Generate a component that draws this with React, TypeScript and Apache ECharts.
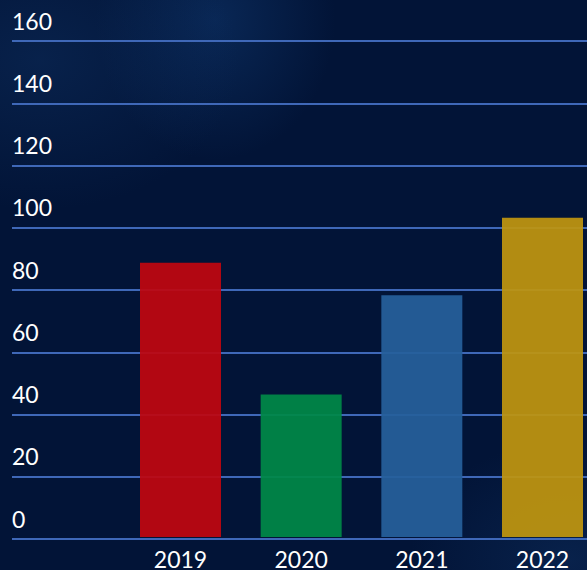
import React, { useEffect, useRef } from "react";
import * as echarts from "echarts";

const categories = ["2019", "2020", "2021", "2022"];
const values = [88.5, 46, 78, 103];
const barColors = ["#c0060f", "#008947", "#26609b", "#c0960f"];
const yMin = 0;
const yMax = 160;
const yInterval = 20;

export default function App() {
  const ref = useRef<HTMLDivElement>(null);
  useEffect(() => {
    document.body.style.margin = "0";
    const chart = echarts.init(ref.current!, null, { renderer: "svg" });
    const font = "Lato, 'Open Sans', sans-serif";
    chart.setOption({
      animation: false,
      grid: [
        { left: 12, right: 0, top: 41, bottom: 31 },
        { left: 180.5, right: 44.5, top: 41, bottom: 31 },
      ],
      xAxis: [
        { type: "category", gridIndex: 0, data: [""], show: false },
        {
          type: "category",
          gridIndex: 1,
          data: categories,
          boundaryGap: false,
          axisLine: { show: false },
          axisTick: { show: false },
          splitLine: { show: false },
          axisLabel: { color: "#ffffff", fontSize: 23, fontFamily: font, margin: 10 },
        },
      ],
      yAxis: [
        {
          type: "value",
          gridIndex: 0,
          min: yMin,
          max: yMax,
          interval: yInterval,
          axisLine: { show: false },
          axisTick: { show: false },
          splitLine: { lineStyle: { color: "#3f68b8", width: 2 } },
          axisLabel: {
            inside: true,
            margin: 0,
            color: "#ffffff",
            fontSize: 23,
            fontFamily: font,
            verticalAlign: "bottom",
            padding: [0, 0, 9, 0],
          },
        },
        { type: "value", gridIndex: 1, min: yMin, max: yMax, interval: yInterval, show: false },
      ],
      series: [
        {
          type: "bar",
          xAxisIndex: 1,
          yAxisIndex: 1,
          barWidth: 81,
          clip: false,
          data: values.map((v, i) => ({
            value: v,
            itemStyle: { color: barColors[i], opacity: 0.93 },
          })),
        },
      ],
    });
    return () => chart.dispose();
  }, []);
  return (
    <div
      ref={ref}
      style={{
        width: 587,
        height: 570,
        background:
          "radial-gradient(ellipse 200px 150px at 40px 60px, rgba(15,50,100,0.45), rgba(15,50,100,0) 100%), radial-gradient(ellipse 120px 140px at 215px 20px, rgba(15,55,110,0.55), rgba(15,55,110,0) 100%), radial-gradient(ellipse 160px 120px at 570px 560px, rgba(15,50,100,0.45), rgba(15,50,100,0) 100%), #021437",
      }}
    />
  );
}
